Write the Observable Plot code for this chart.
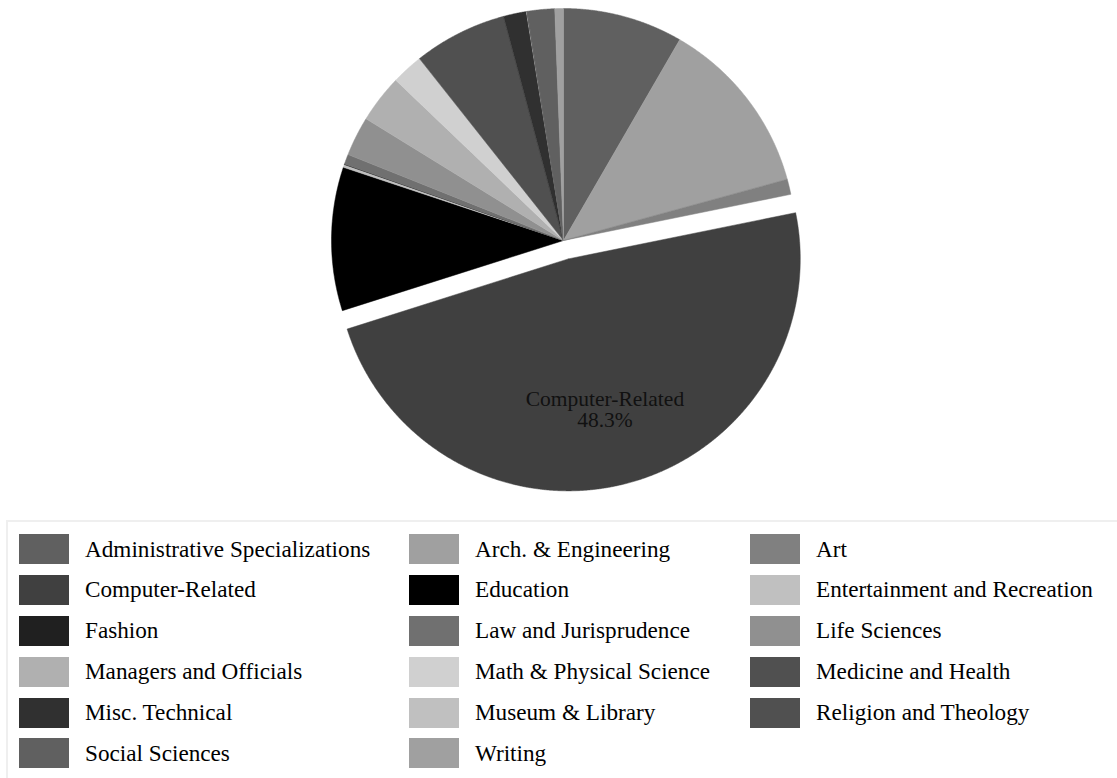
<!DOCTYPE html>
<html>
<head>
<meta charset="utf-8">
<script src="https://cdn.jsdelivr.net/npm/d3@7"></script>
<script src="https://cdn.jsdelivr.net/npm/@observablehq/plot@0.6"></script>
<style>
  html, body { margin: 0; padding: 0; background: #fff; }
  #chart svg { display: block; }
  .legend {
    margin-left: 6px;
    margin-top: 4px;
    width: 1120px;
    border: 2px solid #efefef;
    padding: 12px 0 12px 11px;
    display: grid;
    grid-template-columns: 390px 341px auto;
    row-gap: 10.9px;
    font-family: "Liberation Serif", "Times New Roman", serif;
    font-size: 23.2px;
    color: #000;
  }
  .item { display: flex; align-items: center; height: 30px; white-space: nowrap; }
  .sw { width: 50px; height: 30px; margin-right: 16px; flex: none; }
</style>
</head>
<body>
<div id="chart"></div>
<script>
const categories = [
  "Administrative Specializations", "Arch. & Engineering", "Art",
  "Computer-Related", "Education", "Entertainment and Recreation",
  "Fashion", "Law and Jurisprudence", "Life Sciences",
  "Managers and Officials", "Math & Physical Science", "Medicine and Health",
  "Misc. Technical", "Museum & Library", "Religion and Theology",
  "Social Sciences", "Writing"
];
const values = [8.35, 12.4, 1.06, 48.3, 10.0, 0.2, 0.03, 0.7, 2.75, 3.35, 2.2, 6.5, 1.6, 0.03, 0.03, 1.9, 0.6];
const colors = [
  "#606060", "#a0a0a0", "#808080",
  "#404040", "#000000", "#c0c0c0",
  "#202020", "#707070", "#909090",
  "#b0b0b0", "#d0d0d0", "#505050",
  "#303030", "#c0c0c0", "#505050",
  "#606060", "#a0a0a0"
];
const exploded = "Computer-Related";

// layout (pixels)
const W = 1117, H = 516;
const cx = 563, cy = 240, R = 232, explode = 19;

const rows = categories.map((name, i) => ({name, value: values[i]}));
const total = d3.sum(values);
const arcs = d3.pie().sort(null).value(d => d.value)(rows);

const pts = [];
const labels = [];
for (const a of arcs) {
  const name = a.data.name;
  const mid = (a.startAngle + a.endAngle) / 2;
  const off = name === exploded ? explode : 0;
  const ox = cx + off * Math.sin(mid), oy = cy - off * Math.cos(mid);
  pts.push({name, x: ox, y: oy});
  const n = Math.max(2, Math.ceil((a.endAngle - a.startAngle) / 0.004));
  for (let k = 0; k <= n; k++) {
    const t = a.startAngle + (a.endAngle - a.startAngle) * k / n;
    pts.push({name, x: ox + R * Math.sin(t), y: oy - R * Math.cos(t)});
  }
  pts.push({name, x: ox, y: oy});
  if (name === exploded) {
    const lr = R * 0.668;
    const la = mid + 0.015;
    labels.push({x: ox + lr * Math.sin(la), y: oy - lr * Math.cos(la),
      text: `${name}\n${(a.data.value / total * 100).toFixed(1)}%`});
  }
}

const chart = Plot.plot({
  width: W, height: H, margin: 0,
  x: {domain: [0, W], range: [0, W], axis: null},
  y: {domain: [0, H], range: [0, H], axis: null},
  color: {domain: categories, range: colors},
  style: {background: "#fff"},
  marks: [
    Plot.line(pts, {x: "x", y: "y", z: "name", fill: "name", stroke: "name", strokeWidth: 0.5, curve: "linear"}),
    Plot.text(labels, {x: "x", y: "y", text: "text", fontSize: 21.5, lineHeight: 1.02,
      fontFamily: "Liberation Serif", fill: "#111"})
  ]
});
document.getElementById("chart").appendChild(chart);

const legend = document.createElement("div");
legend.className = "legend";
categories.forEach((c, i) => {
  const it = document.createElement("div");
  it.className = "item";
  const sw = document.createElement("span");
  sw.className = "sw";
  sw.style.background = colors[i];
  const tx = document.createElement("span");
  tx.textContent = c;
  it.appendChild(sw); it.appendChild(tx);
  legend.appendChild(it);
});
document.body.appendChild(legend);
</script>
</body>
</html>
